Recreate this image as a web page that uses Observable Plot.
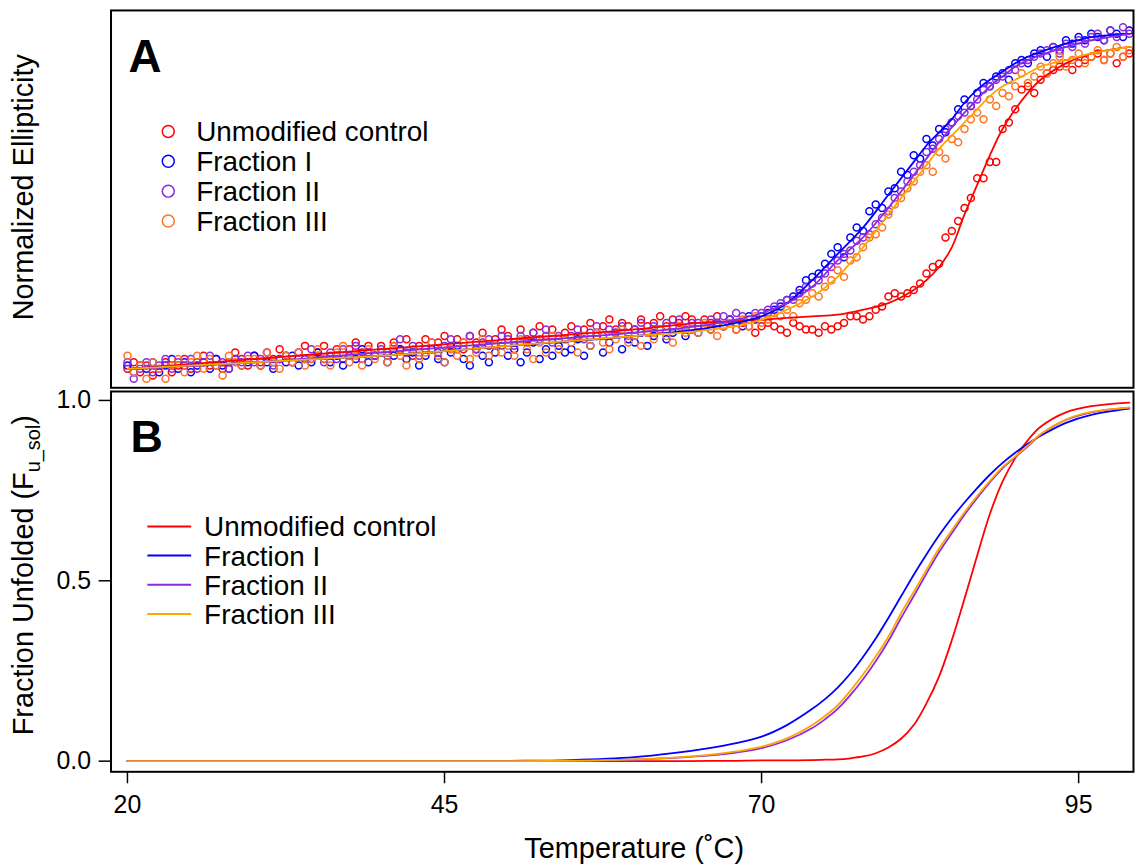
<!DOCTYPE html>
<html><head><meta charset="utf-8">
<script src="https://cdn.jsdelivr.net/npm/d3@7"></script>
<script src="https://cdn.jsdelivr.net/npm/@observablehq/plot@0.6"></script>
<style>
html,body{margin:0;padding:0;overflow:hidden;background:#fff;width:1135px;height:867px;position:relative;}
#a,#b{position:absolute;left:0;}
#a{top:0px;} #b{top:389px;}
</style></head><body><div id="a"></div><div id="b"></div>
<script>
const seriesNames = ["Unmodified control", "Fraction I", "Fraction II", "Fraction III"];
const pointColors = ["#ff0000", "#0000ff", "#8a2be2", "#ff7326"];
const lineColors  = ["#ff0000", "#0000ff", "#8a2be2", "#ffa500"];
const xTicks = [20, 45, 70, 95];
const yTicksB = [0, 0.5, 1];

// Panel A: measured points, 20..99 °C every 0.5 °C (normalized ellipticity ×100)
const pointTemps = d3.range(20, 99.01, 0.5);
const redPts = [0,2,-1,1,-2,0,2,-1,1,3, 0,2,4,1,3,0,2,5,3,1, 4,2,5,3,6,4,2,5,7,3, 5,7,4,6,3,6,8,5,7,4,
  7,5,8,6,9,4,7,9,6,8, 10,7,9,6,10,8,11,7,9,12, 10,8,12,9,11,13,10,12,9,11, 13,10,12,14,11,13,15,12,14,13,
  12,15,13,14,16,13,15,14,16,15, 13,15,14,16,13,15,12,14,13,11, 13,14,13,12,11,14,13,12,12,11, 13,12,13,14,16,16,15,16,18,19,
  22,23,22,23,24,26,29,31,32,40, 42,45,49,52,58,58,63,63,73,75, 79,85,86,84,88,90,91,92,93,91, 93,94,95,96,94,96,93,95,96];
const bluePts = [1,-1,1,0,2,-1,1,3,0,2, -1,1,2,0,3,1,0,3,1,2, 4,1,2,0,3,2,4,1,3,2, 5,3,2,4,1,4,3,6,2,4,
  5,2,4,6,3,5,1,4,6,3, 2,5,7,3,1,6,4,2,5,7, 4,6,2,5,8,3,6,4,7,5, 6,9,4,7,10,5,8,11,6,9,
  8,11,7,10,12,9,11,13,10,12, 11,13,12,14,13,15,14,13,16,15, 16,17,18,19,21,22,24,27,28,29, 32,35,37,34,40,43,42,48,50,49,
  54,55,60,59,65,64,70,68,73,72, 75,79,82,80,84,87,86,89,90,88, 93,94,93,96,97,95,98,97,100,99, 101,100,102,101,100,103,102,101,103];
const purplePts = [2,-3,0,2,-1,1,3,0,2,1, 3,0,2,4,1,2,0,3,2,4, 2,3,5,1,3,4,2,5,3,6, 4,2,5,3,6,4,7,3,5,4,
  6,4,7,9,5,7,4,6,8,5, 7,9,6,8,10,6,8,9,7,10, 9,7,10,8,11,9,12,8,10,9, 10,12,9,11,13,10,12,11,13,10,
  12,14,11,13,12,14,13,15,12,14, 14,13,15,14,16,15,17,16,15,17, 17,18,19,20,21,21,23,25,26,27, 29,31,33,35,36,39,40,41,44,46,
  48,52,54,57,60,62,66,67,70,73, 75,77,78,80,82,85,86,88,89,91, 91,93,94,95,96,97,98,96,99,98, 100,99,101,102,100,103,101,104,102];
const orangePts = [4,-1,1,-3,2,0,-3,1,3,-1, 2,4,0,3,1,-2,4,2,1,3, 3,1,5,2,0,4,2,5,1,3, 6,3,1,5,7,2,4,1,6,3,
  5,2,7,4,1,6,3,5,8,4, 2,6,4,8,3,5,9,4,7,5, 7,4,9,6,3,8,5,10,6,9, 8,5,10,7,11,8,6,9,12,8,
  10,7,11,9,12,10,8,13,11,12, 11,14,12,10,13,14,12,15,13,16, 14,15,17,16,18,16,20,21,23,22, 25,27,30,28,33,34,37,40,41,43,
  47,50,52,55,57,60,62,60,66,64, 70,69,73,76,78,76,82,80,84,83, 86,90,87,89,92,90,93,95,92,94, 96,93,95,97,94,96,98,95,97];

// Panel A: fitted curves (normalized ellipticity ×100)
const lineTempsA = [20,30,40,50,60,65,68,70,72,74,76,78,80,82,83,84,85,86,87,88,89,90,91,92,94,96,99];
const redFitA    = [0,3,6,9,12,14,14.5,15,15.5,16,16.5,18,20,24,27,31,37,47,56,65,73,79,84,88,93,96,98];
const blueFitA   = [0,2,4,7,10,12,14,16,20,27,35,43,53,63,68,72,76,81,85,88,90.5,93,95,96.5,99,101,102];
const purpleFitA = [0,2,5,8,11,13,15,17,20,25,33,40,49,59,64,69,73.5,78,82,86,89,92,94,95.5,98,100,102];
const orangeFitA = [0,2,4,7,10,11.5,13,15,18,22,28,37,47,57,62,67,71,75,79,83,86,88,90,92,94,96,98];

// Panel B: fraction unfolded
const lineTempsB = [20,40,50,55,60,63,66,68,70,72,74,75,76,77,78,79,80,81,82,83,84,85,86,87,88,89,90,91,92,94,96,99];
const redB    = [0,0,0,0,0,0,0.001,0.001,0.002,0.002,0.003,0.004,0.005,0.008,0.013,0.022,0.038,0.062,0.1,0.16,0.235,0.335,0.45,0.57,0.685,0.775,0.84,0.89,0.927,0.967,0.984,0.994];
const blueB   = [0,0,0.001,0.003,0.011,0.022,0.037,0.05,0.068,0.1,0.145,0.172,0.204,0.243,0.289,0.34,0.397,0.457,0.517,0.573,0.626,0.674,0.717,0.757,0.794,0.827,0.855,0.88,0.902,0.938,0.96,0.977];
const purpleB = [0,0,0,0.001,0.004,0.009,0.016,0.024,0.036,0.058,0.092,0.116,0.145,0.183,0.227,0.277,0.333,0.397,0.458,0.52,0.58,0.632,0.683,0.73,0.773,0.812,0.843,0.873,0.905,0.946,0.967,0.98];
const orangeB = [0,0,0,0.001,0.005,0.01,0.018,0.027,0.04,0.063,0.1,0.125,0.155,0.195,0.24,0.29,0.345,0.41,0.47,0.53,0.59,0.64,0.69,0.735,0.777,0.815,0.845,0.875,0.907,0.947,0.968,0.98];

const FONT = "'Liberation Sans', Arial, Helvetica, sans-serif";
const xDomain = [18.705, 99.325];
const W = 1140;

const ptsSets = [redPts, bluePts, purplePts, orangePts];
const fitSetsA = [redFitA, blueFitA, purpleFitA, orangeFitA];
const setsB = [redB, blueB, purpleB, orangeB];

const marksA = [];
ptsSets.forEach((arr, k) => {
  const data = arr.map((v, i) => ({t: pointTemps[i], v}));
  marksA.push(Plot.dot(data, {x: "t", y: "v", r: 3.5, stroke: pointColors[k], strokeWidth: 1.5, fill: "none"}));
});
fitSetsA.forEach((arr, k) => {
  const data = arr.map((v, i) => ({t: lineTempsA[i], v}));
  marksA.push(Plot.line(data, {x: "t", y: "v", stroke: lineColors[k], strokeWidth: 1.8, curve: "catmull-rom"}));
});
marksA.push(Plot.frame({stroke: "black", strokeWidth: 2}));

const plotA = Plot.plot({
  width: W, height: 390,
  marginTop: 10, marginBottom: 1, marginLeft: 111, marginRight: 2,
  style: {fontFamily: FONT, fontSize: "25px", color: "black", background: "white", overflow: "visible"},
  x: {domain: xDomain, axis: null},
  y: {domain: [-5.76, 109.1], axis: null},
  marks: marksA
});
document.getElementById("a").appendChild(plotA);

const marksB = [];
setsB.forEach((arr, k) => {
  const data = arr.map((v, i) => ({t: lineTempsB[i], v}));
  marksB.push(Plot.line(data, {x: "t", y: "v", stroke: lineColors[k], strokeWidth: 1.8, curve: "catmull-rom"}));
});
marksB.push(Plot.frame({stroke: "black", strokeWidth: 2}));
marksB.push(Plot.axisX({ticks: xTicks, tickSize: 12, tickPadding: 12, fontSize: 25, label: null, strokeWidth: 1.5}));
marksB.push(Plot.axisY({ticks: yTicksB, tickFormat: d3.format(".1f"), tickSize: 12, tickPadding: 8, fontSize: 25, label: null, strokeWidth: 1.5}));

const plotB = Plot.plot({
  width: W, height: 478,
  marginTop: 2, marginBottom: 94, marginLeft: 111, marginRight: 2,
  style: {fontFamily: FONT, fontSize: "25px", color: "black", background: "white", overflow: "visible"},
  x: {domain: xDomain},
  y: {domain: [-0.0295, 1.0248]},
  marks: marksB
});
document.getElementById("b").appendChild(plotB);

// Annotations: panel letters, legends, axis titles
const sA = d3.select(plotA);
sA.append("text").attr("x", 129).attr("y", 72).attr("text-anchor", "start").attr("font-size", 46).attr("font-weight", "bold")
  .attr("font-family", FONT).attr("fill", "black").text("A");
seriesNames.forEach((name, i) => {
  sA.append("circle").attr("cx", 169).attr("cy", 132 + 30 * i).attr("r", 6)
    .attr("fill", "none").attr("stroke", pointColors[i]).attr("stroke-width", 1.5);
  sA.append("text").attr("x", 197).attr("y", 142 + 30 * i).attr("text-anchor", "start").attr("font-size", 28)
    .attr("font-family", FONT).attr("fill", "black").text(name);
});
sA.append("text").attr("transform", "translate(33,188) rotate(-90)").attr("text-anchor", "middle")
  .attr("font-size", 29).attr("font-family", FONT).attr("fill", "black").text("Normalized Ellipticity");

const sB = d3.select(plotB);
sB.append("text").attr("x", 131).attr("y", 63).attr("text-anchor", "start").attr("font-size", 45).attr("font-weight", "bold")
  .attr("font-family", FONT).attr("fill", "black").text("B");
seriesNames.forEach((name, i) => {
  const y = 138 + 29.3 * i;
  sB.append("line").attr("x1", 148).attr("x2", 192).attr("y1", y).attr("y2", y)
    .attr("stroke", lineColors[i]).attr("stroke-width", 2);
  sB.append("text").attr("x", 205).attr("y", y + 10).attr("text-anchor", "start").attr("font-size", 28)
    .attr("font-family", FONT).attr("fill", "black").text(name);
});
const yt = sB.append("text").attr("transform", "translate(33,187) rotate(-90)").attr("text-anchor", "middle")
  .attr("font-size", 29).attr("font-family", FONT).attr("fill", "black");
yt.append("tspan").text("Fraction Unfolded (F");
yt.append("tspan").attr("font-size", 20).attr("dy", 7).text("u_sol");
yt.append("tspan").attr("dy", -7).text(")");
sB.append("text").attr("x", 637).attr("y", 471).attr("text-anchor", "middle")
  .attr("font-size", 29).attr("font-family", FONT).attr("fill", "black").text("Temperature (˚C)");
</script></body></html>
